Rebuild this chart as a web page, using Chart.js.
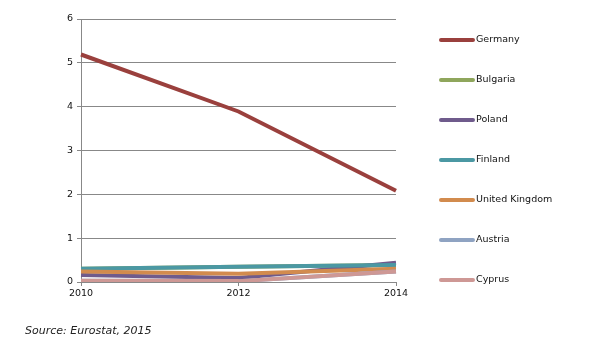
<!DOCTYPE html>
<html>
<head>
<meta charset="utf-8">
<script src="https://cdn.jsdelivr.net/npm/chart.js@4/dist/chart.umd.min.js"></script>
<style>
  html, body { margin: 0; padding: 0; background: #fff; }
  #wrap { position: relative; width: 598px; height: 343px; }
  #source { position: absolute; left: 25px; top: 324px; font: italic 11px "DejaVu Sans", Verdana, sans-serif; color: #222; }
</style>
</head>
<body>
<div id="wrap">
  <canvas id="c" width="598" height="343"></canvas>
  <div id="source">Source: Eurostat, 2015</div>
</div>
<script>
const years = ["2010", "2012", "2014"];
const countries = ["Germany", "Bulgaria", "Poland", "Finland", "United Kingdom", "Austria", "Cyprus"];
const colors = ["#9A403D", "#8FA65C", "#6F5B8C", "#4B98A3", "#D28B4E", "#8FA3C2", "#CE9895"];
const germany = [5.19, 3.89, 2.08];
const bulgaria = [0.30, 0.35, 0.39];
const poland = [0.16, 0.09, 0.44];
const finland = [0.30, 0.35, 0.39];
const unitedKingdom = [0.24, 0.19, 0.30];
const austria = [0.03, 0.02, 0.24];
const cyprus = [0.03, 0.02, 0.24];
const yTicks = [0, 1, 2, 3, 4, 5, 6];

const series = [germany, bulgaria, poland, finland, unitedKingdom, austria, cyprus];
const FONT = '"DejaVu Sans", Verdana, sans-serif';

const legendPlugin = {
  id: 'sideLegend',
  afterDraw(chart) {
    const ctx = chart.ctx;
    ctx.save();
    chart.data.datasets.forEach((ds, i) => {
      const y = 40 + 40 * i;
      ctx.strokeStyle = ds.borderColor;
      ctx.lineWidth = 4;
      ctx.lineCap = 'round';
      ctx.beginPath();
      ctx.moveTo(441, y);
      ctx.lineTo(473, y);
      ctx.stroke();
      ctx.fillStyle = '#111';
      ctx.font = '9.5px ' + FONT;
      ctx.textBaseline = 'middle';
      ctx.textAlign = 'left';
      ctx.fillText(ds.label, 476, y);
    });
    ctx.restore();
  }
};

new Chart(document.getElementById('c'), {
  type: 'line',
  data: {
    labels: years,
    datasets: countries.map((name, i) => ({
      label: name,
      data: series[i],
      borderColor: colors[i],
      backgroundColor: colors[i],
      borderWidth: 4,
      pointRadius: 0,
      tension: 0,
      order: countries.length - i
    }))
  },
  options: {
    responsive: false,
    animation: false,
    devicePixelRatio: 1,
    layout: { padding: { left: 0, top: 19, right: 202, bottom: 0 } },
    plugins: { legend: { display: false }, tooltip: { enabled: false } },
    scales: {
      x: {
        offset: false,
        grid: { display: true, drawOnChartArea: false, color: '#888', tickLength: 4 },
        border: { color: '#888', width: 1 },
        ticks: { color: '#111', font: { family: FONT, size: 9.5 }, padding: 2, maxRotation: 0 },
        afterFit(scale) { scale.height = 61; }
      },
      y: {
        min: 0, max: 6,
        afterBuildTicks(scale) { scale.ticks = yTicks.map(v => ({ value: v })); },
        grid: { color: '#888', tickLength: 4 },
        border: { color: '#888', width: 1 },
        ticks: { color: '#111', font: { family: FONT, size: 9.5 }, padding: 4 },
        afterFit(scale) { scale.width = 81; }
      }
    }
  },
  plugins: [legendPlugin]
});
</script>
</body>
</html>
